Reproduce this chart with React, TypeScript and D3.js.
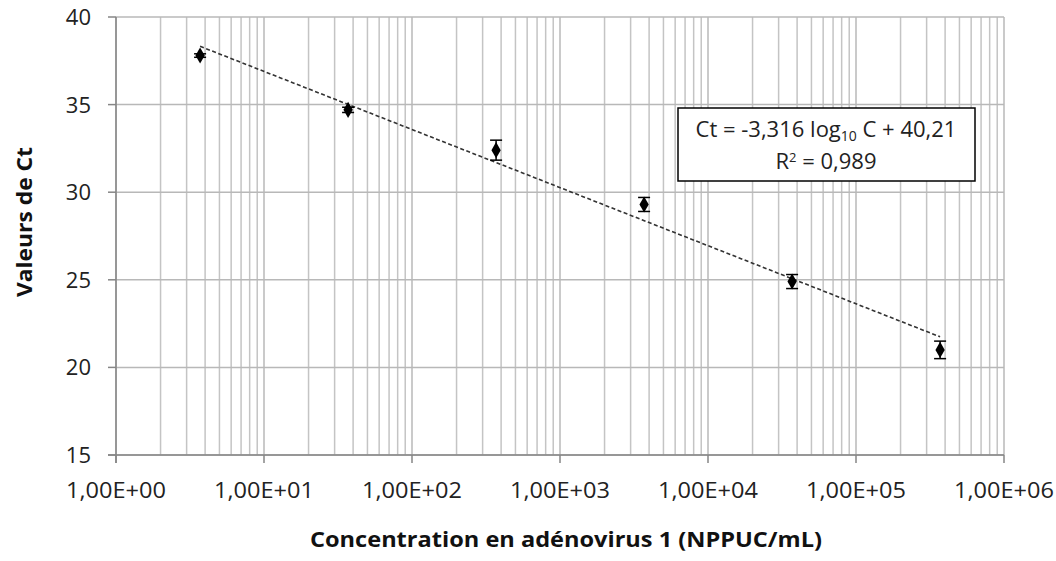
import React from "react";
import * as d3 from "d3";

const concentrations = [3.7, 37, 370, 3700, 37000, 370000];
const ctValues = [37.8, 34.7, 32.4, 29.3, 24.9, 21.0];
const ctErrors = [0.1, 0.15, 0.57, 0.4, 0.4, 0.5];
const fitSlope = -3.316;
const fitIntercept = 40.21;
const yTicks = [15, 20, 25, 30, 35, 40];
const xDecades = [1, 10, 100, 1000, 10000, 100000, 1000000];
const xTickLabels = ["1,00E+00", "1,00E+01", "1,00E+02", "1,00E+03", "1,00E+04", "1,00E+05", "1,00E+06"];

const W = 1056, H = 561;
const L = 116, R = 1004, T = 17, B = 455;
const FONT = "'Open Sans', sans-serif";

export default function App() {
  const x = d3.scaleLog().domain([1, 1e6]).range([L, R]);
  const y = d3.scaleLinear().domain([15, 40]).range([B, T]);

  const minor: number[] = [];
  for (let d = 0; d < 6; d++) for (let k = 2; k <= 9; k++) minor.push(k * Math.pow(10, d));

  const fitX = [concentrations[0], concentrations[concentrations.length - 1]];
  const line = d3.line<number>().x((c) => x(c)).y((c) => y(fitSlope * Math.log10(c) + fitIntercept));
  const diamond = d3.symbol().type(d3.symbolDiamond).size(75)();

  return (
    <svg width={W} height={H} style={{ position: "absolute", left: 0, top: 0, background: "#fff" }} fontFamily={FONT}>
      <rect x={0} y={0} width={W} height={H} fill="#fff" />
      {/* grid */}
      {minor.map((v, i) => (
        <line key={"m" + i} x1={x(v)} x2={x(v)} y1={T} y2={B} stroke="#c4c4c4" strokeWidth={1.5} />
      ))}
      {xDecades.map((v, i) => (
        <line key={"d" + i} x1={x(v)} x2={x(v)} y1={T} y2={B} stroke="#b8b8b8" strokeWidth={1.5} />
      ))}
      {yTicks.map((v) => (
        <line key={"h" + v} x1={L} x2={R} y1={y(v)} y2={y(v)} stroke="#b8b8b8" strokeWidth={1.5} />
      ))}
      {/* axes */}
      <line x1={L} x2={L} y1={T} y2={B + 8} stroke="#868686" strokeWidth={1.5} />
      <line x1={L - 8} x2={R} y1={B} y2={B} stroke="#868686" strokeWidth={1.5} />
      {yTicks.map((v) => (
        <line key={"yt" + v} x1={L - 8} x2={L} y1={y(v)} y2={y(v)} stroke="#868686" strokeWidth={1.5} />
      ))}
      {xDecades.map((v, i) => (
        <line key={"xt" + i} x1={x(v)} x2={x(v)} y1={B} y2={B + 8} stroke="#868686" strokeWidth={1.5} />
      ))}
      {yTicks.map((v) => (
        <text key={"yl" + v} x={91} y={y(v)} dy="0.36em" textAnchor="end" fontSize={22} fill="#222">{v}</text>
      ))}
      {xDecades.map((v, i) => (
        <text key={"xl" + i} x={x(v)} y={498} textAnchor="middle" fontSize={22} fill="#222" textLength={100} lengthAdjust="spacingAndGlyphs">{xTickLabels[i]}</text>
      ))}
      {/* trendline */}
      <path d={line(fitX) || ""} fill="none" stroke="#333" strokeWidth={1.6} strokeDasharray="4,2.5" />
      {/* error bars & points */}
      {concentrations.map((c, i) => {
        const cx = x(c);
        const y1 = y(ctValues[i] + ctErrors[i]);
        const y2 = y(ctValues[i] - ctErrors[i]);
        return (
          <g key={"p" + i}>
            <line x1={cx} x2={cx} y1={y1} y2={y2} stroke="#000" strokeWidth={1.5} />
            <line x1={cx - 6} x2={cx + 6} y1={y1} y2={y1} stroke="#000" strokeWidth={1.5} />
            <line x1={cx - 6} x2={cx + 6} y1={y2} y2={y2} stroke="#000" strokeWidth={1.5} />
            <path d={diamond || ""} transform={`translate(${cx},${y(ctValues[i])})`} fill="#000" />
          </g>
        );
      })}
      {/* equation box */}
      <rect x={678} y={108} width={297} height={73} fill="#fff" stroke="#000" strokeWidth={1.5} />
      <text x={826} y={137} textAnchor="middle" fontSize={22} fill="#222">
        Ct = -3,316 log<tspan fontSize={14} dy={4}>10</tspan><tspan dy={-4}> C + 40,21</tspan>
      </text>
      <text x={826} y={169} textAnchor="middle" fontSize={22} fill="#222">
        R<tspan fontSize={13} dy={-7}>2</tspan><tspan dy={7}> = 0,989</tspan>
      </text>
      {/* titles */}
      <text x={566} y={547} textAnchor="middle" fontSize={22} fontWeight="bold" fill="#111" textLength={512} lengthAdjust="spacingAndGlyphs">
        Concentration en adénovirus 1 (NPPUC/mL)
      </text>
      <text transform="translate(32,222) rotate(-90)" textAnchor="middle" fontSize={22} fontWeight="bold" fill="#111" textLength={150} lengthAdjust="spacingAndGlyphs">
        Valeurs de Ct
      </text>
    </svg>
  );
}
